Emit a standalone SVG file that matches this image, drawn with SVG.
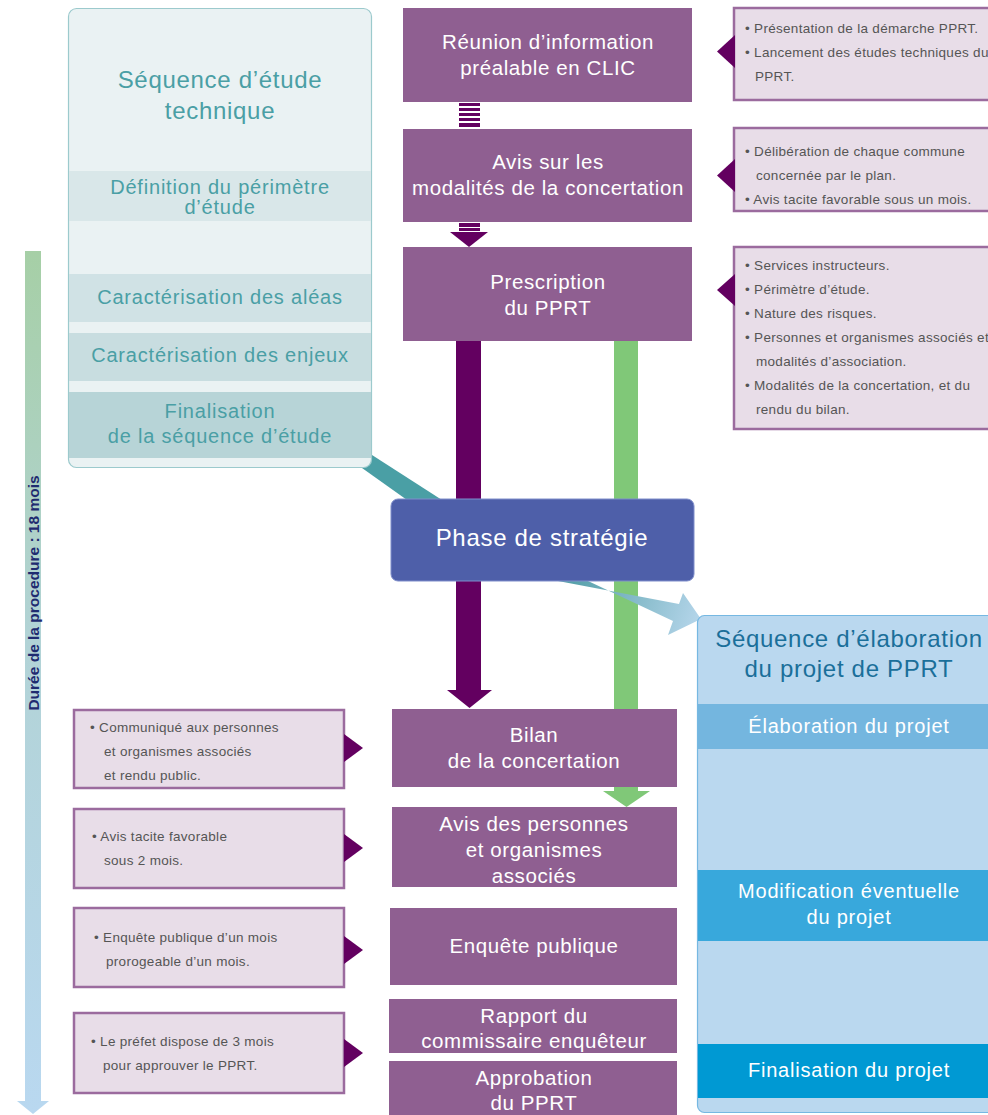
<svg xmlns="http://www.w3.org/2000/svg" width="988" height="1115" viewBox="0 0 988 1115">
<defs>
<linearGradient id="gDur" x1="0" y1="0" x2="0" y2="1">
<stop offset="0" stop-color="#a6cfa6"/>
<stop offset="0.45" stop-color="#b2d3d6"/>
<stop offset="1" stop-color="#b9d8f0"/>
</linearGradient>
<linearGradient id="gArr" x1="570" y1="580" x2="700" y2="625" gradientUnits="userSpaceOnUse">
<stop offset="0" stop-color="#56a0a9"/>
<stop offset="1" stop-color="#b6d6eb"/>
</linearGradient>
<style>
.pbox{fill:#8f5f91}
.ptxt{font-family:"Liberation Sans",Arial,sans-serif;font-size:20.5px;letter-spacing:0.6px;fill:#ffffff;text-anchor:middle}
.ibox{fill:#e8dde8;stroke:#9b6b9e;stroke-width:2.5}
.ptr{fill:#630060}
.itxt{font-family:"Liberation Sans",Arial,sans-serif;font-size:13.5px;letter-spacing:0.3px;fill:#555555}
.ttxt{font-family:"Liberation Sans",Arial,sans-serif;fill:#4a9fa5;text-anchor:middle}
.tt{font-size:24px;letter-spacing:0.7px}
.ts{font-size:20px;letter-spacing:0.8px}
.btxt{font-family:"Liberation Sans",Arial,sans-serif;fill:#ffffff;text-anchor:middle;font-size:20px;letter-spacing:0.8px}
.dk{fill:#630060}
.gr{fill:#80c878}
</style>
</defs>
<rect width="988" height="1115" fill="#ffffff"/>

<g id="duration">
<path d="M25 251 H41 V1101 H49 L33 1114 L17 1101 H25 Z" fill="url(#gDur)"/>
<text transform="translate(38.5,593) rotate(-90)" font-family="'Liberation Sans',Arial,sans-serif" font-size="15.5" font-weight="bold" fill="#1f2b70" text-anchor="middle">Durée de la procedure : 18 mois</text>
</g>

<g id="connectors">
<rect x="459" y="103" width="21" height="3" class="dk"/>
<rect x="459" y="108" width="21" height="3" class="dk"/>
<rect x="459" y="113" width="21" height="3" class="dk"/>
<rect x="459" y="118" width="21" height="3" class="dk"/>
<rect x="459" y="123" width="21" height="4" class="dk"/>
<rect x="459" y="223" width="21" height="4" class="dk"/>
<rect x="459" y="228" width="21" height="3" class="dk"/>
<path d="M450 232 H488 L469 247 Z" class="dk"/>
<path d="M372 455 L442 500 L407 500 L362 468 Z" fill="#4a9fa5"/>
<rect x="456" y="341" width="25" height="350" class="dk"/>
<path d="M447 690 H492 L469.5 708 Z" class="dk"/>
<rect x="614" y="341" width="24" height="451" class="gr"/>
<path d="M603 791 H650 L626.5 807 Z" class="gr"/>
<path d="M558 581 L679 604 L683 593 L701 619 L668 635 L673 621 L588 581 Z" fill="url(#gArr)"/>
</g>

<g id="seq-etude">
<rect x="68.5" y="8.5" width="303" height="459" rx="8" fill="#eaf2f3" stroke="#9ccacd" stroke-width="1.2"/>
<text class="ttxt tt" x="220" y="88">Séquence d’étude</text>
<text class="ttxt tt" x="220" y="119">technique</text>
<rect x="69" y="171" width="302" height="50" fill="#d9e7e9"/>
<text class="ttxt ts" x="220" y="194">Définition du périmètre</text>
<text class="ttxt ts" x="220" y="214">d’étude</text>
<rect x="69" y="274" width="302" height="48" fill="#d0e2e5"/>
<text class="ttxt ts" x="220" y="304">Caractérisation des aléas</text>
<rect x="69" y="333" width="302" height="48" fill="#c8dde0"/>
<text class="ttxt ts" x="220" y="362">Caractérisation des enjeux</text>
<rect x="69" y="392" width="302" height="66" fill="#b7d4d7"/>
<text class="ttxt ts" x="220" y="418">Finalisation</text>
<text class="ttxt ts" x="220" y="443">de la séquence d’étude</text>
</g>

<g id="reunion">
<rect class="pbox" x="403" y="8" width="289" height="94"/>
<text class="ptxt" x="548" y="49">Réunion d’information</text>
<text class="ptxt" x="548" y="75">préalable en CLIC</text>
</g>
<g id="avis-modalites">
<rect class="pbox" x="403" y="129" width="289" height="93"/>
<text class="ptxt" x="548" y="169">Avis sur les</text>
<text class="ptxt" x="548" y="195">modalités de la concertation</text>
</g>
<g id="prescription">
<rect class="pbox" x="403" y="247" width="289" height="94"/>
<text class="ptxt" x="548" y="289">Prescription</text>
<text class="ptxt" x="548" y="315">du PPRT</text>
</g>

<g id="info-reunion">
<rect class="ibox" x="734" y="8" width="270" height="92"/>
<path class="ptr" d="M735 35 V68 L717 51.5 Z"/>
<text class="itxt" x="745" y="33">• Présentation de la démarche PPRT.</text>
<text class="itxt" x="745" y="57">• Lancement des études techniques du</text>
<text class="itxt" x="755" y="81">PPRT.</text>
</g>
<g id="info-avis">
<rect class="ibox" x="734" y="128" width="270" height="83"/>
<path class="ptr" d="M735 159 V192 L717 175.5 Z"/>
<text class="itxt" x="745" y="156">• Délibération de chaque commune</text>
<text class="itxt" x="756" y="180">concernée par le plan.</text>
<text class="itxt" x="745" y="204">• Avis tacite favorable sous un mois.</text>
</g>
<g id="info-prescription">
<rect class="ibox" x="734" y="247" width="270" height="182"/>
<path class="ptr" d="M735 274 V306 L717 290 Z"/>
<text class="itxt" x="745" y="270">• Services instructeurs.</text>
<text class="itxt" x="745" y="294">• Périmètre d’étude.</text>
<text class="itxt" x="745" y="318">• Nature des risques.</text>
<text class="itxt" x="745" y="342">• Personnes et organismes associés et</text>
<text class="itxt" x="756" y="366">modalités d’association.</text>
<text class="itxt" x="745" y="390">• Modalités de la concertation, et du</text>
<text class="itxt" x="756" y="414">rendu du bilan.</text>
</g>

<g id="phase-strategie">
<rect x="391" y="499" width="303" height="82" rx="7" fill="#4e5fa9" stroke="#7f8ecb" stroke-width="1"/>
<text x="542" y="546" font-family="'Liberation Sans',Arial,sans-serif" font-size="24" letter-spacing="0.7" fill="#ffffff" text-anchor="middle">Phase de stratégie</text>
</g>

<g id="seq-elaboration">
<rect x="697.5" y="615.5" width="310" height="497" rx="7" fill="#bad8ef" stroke="#76b8e2" stroke-width="1.2"/>
<text x="849" y="647" font-family="'Liberation Sans',Arial,sans-serif" font-size="24" letter-spacing="0.7" fill="#1a6f9a" text-anchor="middle">Séquence d’élaboration</text>
<text x="849" y="677" font-family="'Liberation Sans',Arial,sans-serif" font-size="24" letter-spacing="0.7" fill="#1a6f9a" text-anchor="middle">du projet de PPRT</text>
<rect x="698" y="704" width="290" height="45" fill="#74b6df"/>
<text class="btxt" x="849" y="733">Élaboration du projet</text>
<rect x="698" y="870" width="290" height="71" fill="#38a8dc"/>
<text class="btxt" x="849" y="898">Modification éventuelle</text>
<text class="btxt" x="849" y="924">du projet</text>
<rect x="698" y="1044" width="290" height="54" fill="#0099d3"/>
<text class="btxt" x="849" y="1077">Finalisation du projet</text>
</g>

<g id="bilan">
<rect class="pbox" x="392" y="709" width="285" height="78"/>
<text class="ptxt" x="534" y="742">Bilan</text>
<text class="ptxt" x="534" y="768">de la concertation</text>
</g>
<g id="avis-personnes">
<rect class="pbox" x="392" y="807" width="285" height="80"/>
<text class="ptxt" x="534" y="831">Avis des personnes</text>
<text class="ptxt" x="534" y="857">et organismes</text>
<text class="ptxt" x="534" y="883">associés</text>
</g>
<g id="enquete">
<rect class="pbox" x="390" y="908" width="287" height="77"/>
<text class="ptxt" x="534" y="953">Enquête publique</text>
</g>
<g id="rapport">
<rect class="pbox" x="389" y="999" width="288" height="54"/>
<text class="ptxt" x="534" y="1023">Rapport du</text>
<text class="ptxt" x="534" y="1048">commissaire enquêteur</text>
</g>
<g id="approbation">
<rect class="pbox" x="389" y="1061" width="288" height="54"/>
<text class="ptxt" x="534" y="1085">Approbation</text>
<text class="ptxt" x="534" y="1110">du PPRT</text>
</g>

<g id="info-bilan">
<rect class="ibox" x="74" y="710" width="270" height="78"/>
<path class="ptr" d="M344 734 V762 L363 748 Z"/>
<text class="itxt" x="90" y="732">• Communiqué aux personnes</text>
<text class="itxt" x="104" y="756">et organismes associés</text>
<text class="itxt" x="104" y="780">et rendu public.</text>
</g>
<g id="info-avis-personnes">
<rect class="ibox" x="74" y="809" width="270" height="79"/>
<path class="ptr" d="M344 834 V862 L363 848 Z"/>
<text class="itxt" x="92" y="841">• Avis tacite favorable</text>
<text class="itxt" x="104" y="865">sous 2 mois.</text>
</g>
<g id="info-enquete">
<rect class="ibox" x="74" y="908" width="270" height="79"/>
<path class="ptr" d="M344 936 V964 L363 950 Z"/>
<text class="itxt" x="94" y="942">• Enquête publique d’un mois</text>
<text class="itxt" x="106" y="966">prorogeable d’un mois.</text>
</g>
<g id="info-approbation">
<rect class="ibox" x="74" y="1013" width="270" height="80"/>
<path class="ptr" d="M344 1039 V1067 L363 1053 Z"/>
<text class="itxt" x="91" y="1046">• Le préfet dispose de 3 mois</text>
<text class="itxt" x="103" y="1070">pour approuver le PPRT.</text>
</g>
</svg>
